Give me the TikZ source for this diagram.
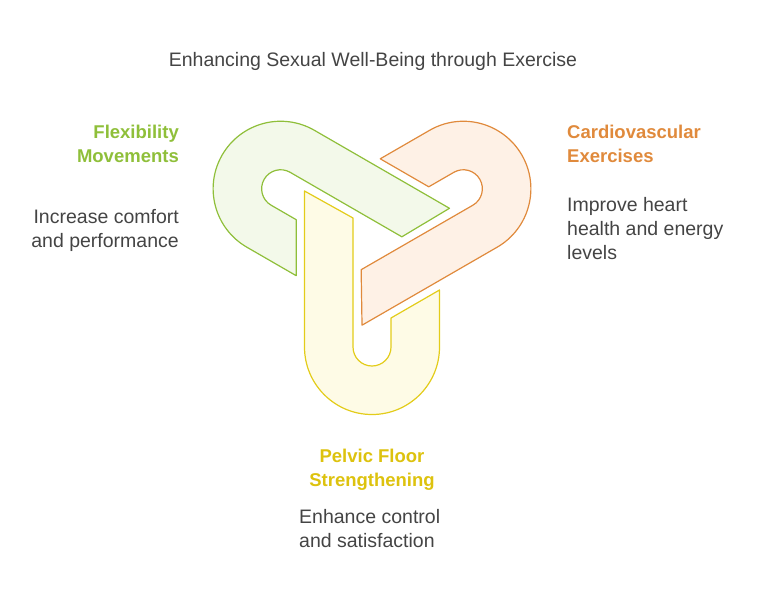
\documentclass[tikz,border=0pt]{standalone}
\usepackage{fontspec}
\setmainfont{Liberation Sans}
\definecolor{flexline}{HTML}{8FBF3A}
\definecolor{flexfill}{HTML}{F3F9EA}
\definecolor{cardline}{HTML}{E08A3C}
\definecolor{cardfill}{HTML}{FEF1E6}
\definecolor{pelvline}{HTML}{E3CC1A}
\definecolor{pelvfill}{HTML}{FEFBE6}
\definecolor{pelvhead}{HTML}{DDC20E}
\definecolor{bodytext}{HTML}{444444}
\tikzset{
  hook/.style={line width=1.2pt,line join=round},
  heading/.style={font=\bfseries\fontsize{18.5}{24}\selectfont,align=#1,inner sep=0pt},
  blurb/.style={text=bodytext,font=\fontsize{19.5}{24}\selectfont,align=#1,inner sep=0pt}
}
\newcommand{\hookpath}{(-67.5,50.5) -- (-19,23.5) -- (-19,-105.5)
  arc[start angle=180,end angle=360,radius=19] -- (19,-76.5) -- (67.5,-48.5)
  -- (67.5,-105.5) arc[start angle=0,end angle=-180,radius=67.5] -- cycle}
\begin{document}
\begin{tikzpicture}[x=1pt,y=-1pt]
  \useasboundingbox (0,0) rectangle (758,603);
  \coordinate (mid) at (372,241.5);
  % three interlocking hooks
  \begin{scope}[shift={(mid)},y=1pt]
    \draw[hook,draw=flexline,fill=flexfill,rotate=240] \hookpath;
    \draw[hook,draw=cardline,fill=cardfill,rotate=120] \hookpath;
    \draw[hook,draw=pelvline,fill=pelvfill] \hookpath;
  \end{scope}
  \node[blurb=center] (title) at (373,61) {Enhancing Sexual Well-Being through Exercise};
  % flexibility
  \node[heading=right,text=flexline,anchor=north east] (flexhead) at (179,125) {Flexibility\\Movements};
  \node[blurb=right,anchor=north east] (flextext) at (179,209) {Increase comfort\\and performance};
  % cardiovascular
  \node[heading=left,text=cardline,anchor=north west] (cardhead) at (567,125) {Cardiovascular\\Exercises};
  \node[blurb=left,anchor=north west] (cardtext) at (567,197) {Improve heart\\health and energy\\levels};
  % pelvic floor
  \node[heading=center,text=pelvhead,anchor=north] (pelvhead) at (372,449) {Pelvic Floor\\Strengthening};
  \node[blurb=left,anchor=north west] (pelvtext) at (299,509) {Enhance control\\and satisfaction};
\end{tikzpicture}
\end{document}
